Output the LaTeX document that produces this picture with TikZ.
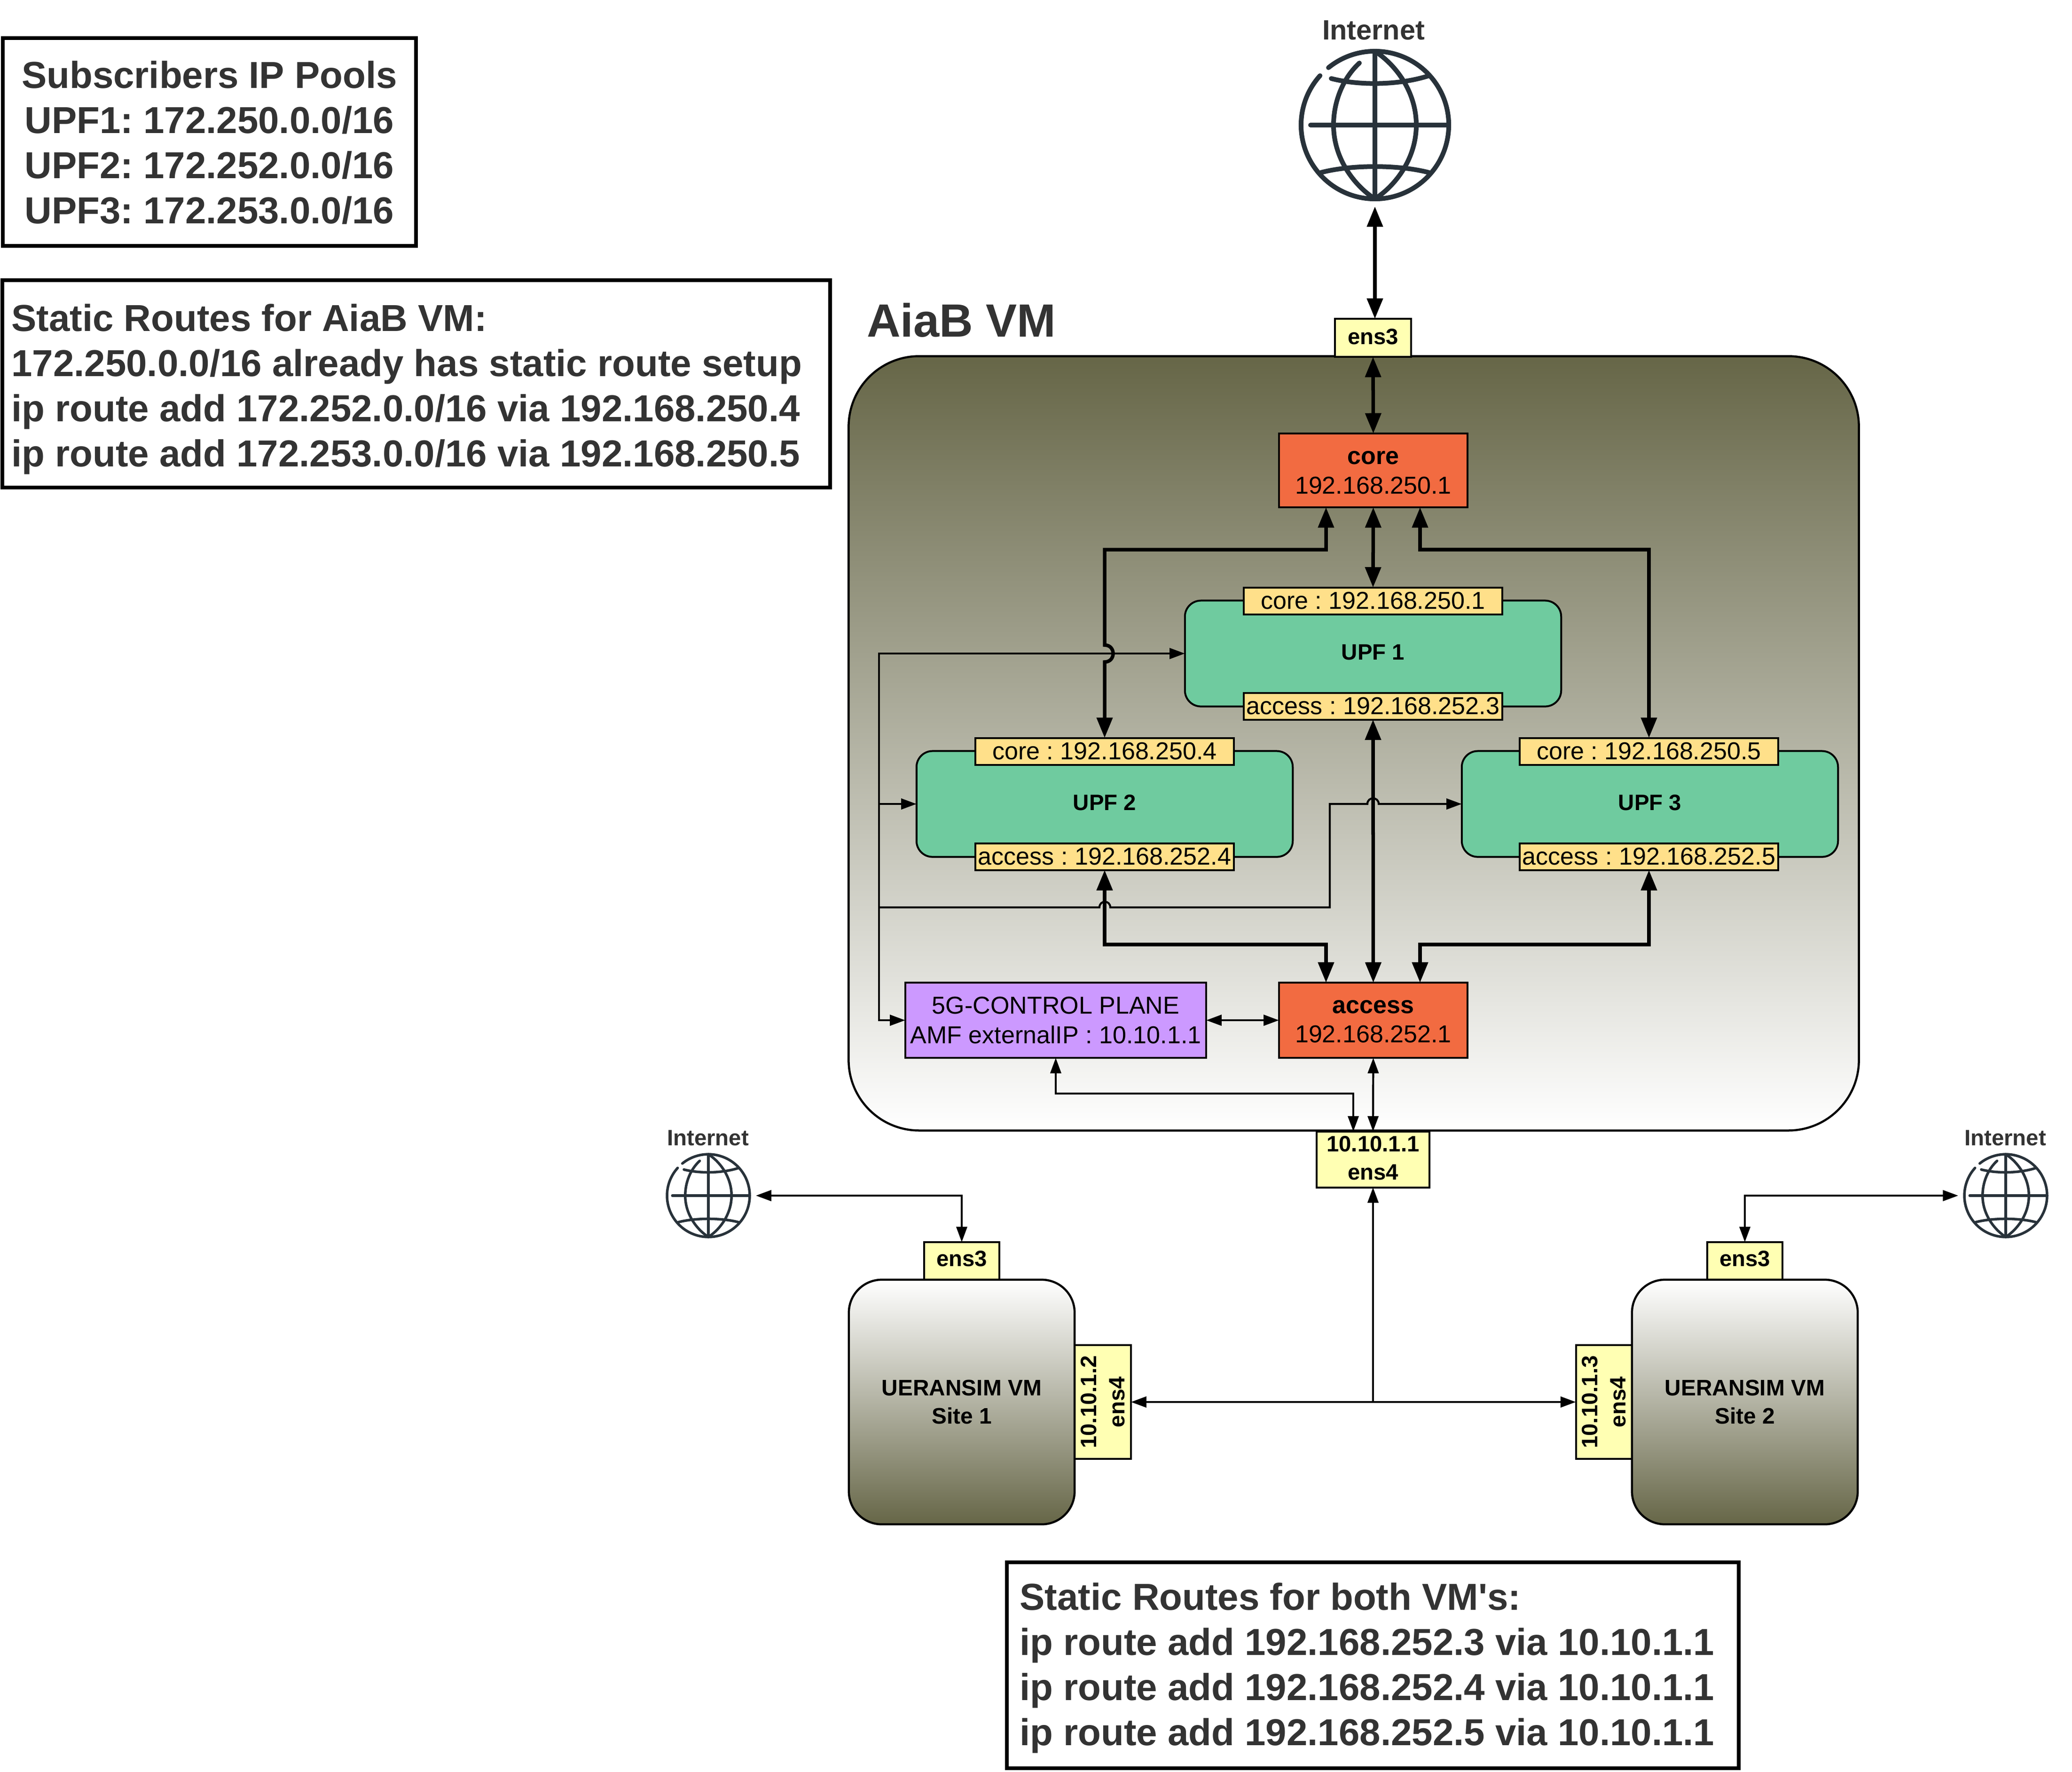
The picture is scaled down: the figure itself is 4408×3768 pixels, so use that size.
\documentclass[tikz,border=0pt]{standalone}
\usepackage{fontspec}
\setmainfont{Liberation Sans}[Ligatures=TeXOff]
\usetikzlibrary{arrows.meta,calc}
\frenchspacing
\definecolor{olive}{HTML}{666647}
\definecolor{darktext}{HTML}{333333}
\definecolor{labelfill}{HTML}{FFE08A}
\definecolor{upfgreen}{HTML}{6FCB9F}
\definecolor{corefill}{HTML}{F26B41}
\definecolor{cpfill}{HTML}{CC99FF}
\definecolor{portfill}{HTML}{FFFFB3}
\definecolor{globecol}{HTML}{28323A}
\newcommand{\fs}[2]{\fontsize{#1}{#2}\selectfont}
\newcommand{\tall}[1]{\rule{0pt}{#1pt}}
\newcommand{\deep}[1]{\rule[-#1pt]{0pt}{0pt}}
\newcommand{\globeicon}[4]{%
  \begin{scope}[shift={(#1,#2)},x=.01cm,y=.01cm,scale=#3,draw=globecol,line width=#4,line cap=round]
    \draw (129:1.57cm) arc[start angle=129,end angle=-222,radius=1.57cm];
    \draw (-33,132) .. controls (-68,100) and (-88,50) .. (-88,0) .. controls (-88,-70) and (-45,-128) .. (0,-157);
    \draw (0,157) .. controls (45,128) and (88,70) .. (88,0) .. controls (88,-70) and (45,-128) .. (0,-157);
    \draw (0,157) -- (0,-157);
    \draw (-137,0) -- (157,0);
    \draw (-93,99) .. controls (-35,84) and (50,84) .. (115,105);
    \draw (-115,-101) .. controls (-50,-84) and (50,-84) .. (115,-101);
  \end{scope}}
\tikzset{
  every node/.style={inner sep=0pt,outer sep=0pt,text=black},
  notebox/.style={draw=black,line width=.08cm,fill=white,text=darktext,font=\bfseries\fs{22.7}{27.3}},
  boxsize/.style n args={2}{minimum width=#1cm,minimum height=#2cm},
  vmbox/.style={draw=black,line width=.045cm,align=center},
  upfbox/.style={draw=black,line width=.04cm,fill=upfgreen,rounded corners=.34cm,font=\bfseries\fs{13.47}{17},boxsize={8.0}{2.25}},
  ip/.style={draw=black,line width=.04cm,fill=labelfill,font=\fs{14.8}{17.8},boxsize={5.5}{.57}},
  gw/.style={draw=black,line width=.045cm,fill=corefill,align=center,font=\fs{14.8}{17.8},boxsize={4.01}{1.6}},
  port/.style={draw=black,line width=.04cm,fill=portfill,align=center,font=\bfseries\fs{13.47}{17}},
  head/.style={text=darktext,font=\bfseries},
  globe/.style={minimum width=3.26cm,minimum height=3.26cm,outer sep=.1cm},
  thickline/.style={line width=.075cm,{Triangle[length=12.3pt,width=9.4pt]}-{Triangle[length=12.3pt,width=9.4pt]}},
  thinline/.style={line width=.042cm,{Triangle[length=9.3pt,width=6.5pt]}-{Triangle[length=9.3pt,width=6.5pt]}},
  thinend/.style={line width=.042cm,-{Triangle[length=9.3pt,width=6.5pt]}}
}
\begin{document}
\begin{tikzpicture}[x=.01cm,y=-.01cm]
\useasboundingbox (0,0) rectangle (4408,3768);
% notes
\node[notebox,boxsize={8.79}{4.42},align=center] (subs) at (445.5,302) {\tall{17.2}Subscribers IP Pools\\UPF1: 172.250.0.0/16\\UPF2: 172.252.0.0/16\\UPF3: 172.253.0.0/16};
\node[notebox,align=flush left,inner xsep=.19cm,text width=17.21cm,minimum height=4.41cm] (routes) at (885.5,816.5) {\tall{22.7}Static Routes for AiaB VM:\\172.250.0.0/16 already has static route setup\\ip route add 172.252.0.0/16 via 192.168.250.4\\ip route add 172.253.0.0/16 via 192.168.250.5};
\node[notebox,align=flush left,inner xsep=.28cm,text width=15.01cm,minimum height=4.38cm] (both) at (2920.5,3542) {\tall{19.9}Static Routes for both VM's:\\ip route add 192.168.252.3 via 10.10.1.1\\ip route add 192.168.252.4 via 10.10.1.1\\ip route add 192.168.252.5 via 10.10.1.1};
% main VM
\node[vmbox,top color=olive,bottom color=white,rounded corners=1.5cm,boxsize={21.48}{16.46}] (vm) at (2880,1581) {};
\node[head,font=\bfseries\fs{28.2}{32},anchor=west] (vmtitle) at (1844,681) {AiaB VM};
% globes
\node[globe] (gtop) at (2925,266) {};
\globeicon{2925}{266}{1}{.1cm}
\node[head,font=\bfseries\fs{16.9}{20}] (ttop) at (2922,64) {Internet};
\node[globe,minimum width=1.82cm,minimum height=1.82cm] (gleft) at (1507,2543) {};
\globeicon{1507}{2543}{.56}{.055cm}
\node[head,font=\bfseries\fs{13.47}{17}] (tleft) at (1506,2420) {Internet};
\node[globe,minimum width=1.82cm,minimum height=1.82cm] (gright) at (4267,2543) {};
\globeicon{4267}{2543}{.56}{.055cm}
\node[head,font=\bfseries\fs{13.47}{17}] (tright) at (4266,2420) {Internet};
% boxes
\node[gw,minimum height=1.57cm] (core) at (2921.5,1000.5) {\tall{10.5}\textbf{core}\\192.168.250.1};
\node[gw] (access) at (2921.5,2170) {\tall{9.4}\textbf{access}\\192.168.252.1};
\node[gw,fill=cpfill,boxsize={6.4}{1.6}] (cp) at (2246,2170) {5G-CONTROL PLANE\\AMF externalIP : 10.10.1.1};
\node[upfbox] (upf1) at (2921,1390) {\deep{1.7}UPF 1};
\node[upfbox] (upf2) at (2350,1710) {\deep{1.7}UPF 2};
\node[upfbox] (upf3) at (3510,1710) {\deep{1.7}UPF 3};
\node[ip] (u1c) at (2921,1278) {core : 192.168.250.1};
\node[ip] (u1a) at (2921,1502) {access : 192.168.252.3};
\node[ip] (u2c) at (2350,1598) {core : 192.168.250.4};
\node[ip] (u2a) at (2350,1822) {access : 192.168.252.4};
\node[ip] (u3c) at (3508,1598) {core : 192.168.250.5};
\node[ip] (u3a) at (3508,1822) {access : 192.168.252.5};
\node[port,boxsize={1.62}{.81}] (e3top) at (2921,718.5) {\deep{1.7}ens3};
\node[port,boxsize={2.4}{1.19}] (e4main) at (2921,2466) {10.10.1.1\\\deep{1.7}ens4};
% UE VMs
\node[port,boxsize={1.6}{.8}] (s1e3) at (2046,2682) {\deep{3}ens3};
\node[port,boxsize={1.6}{.8}] (s2e3) at (3712,2682) {\deep{3}ens3};
\node[port,boxsize={2.42}{1.2},rotate=90] (s1e4) at (2346,2982) {10.10.1.2\\ens4};
\node[port,boxsize={2.42}{1.2},rotate=90] (s2e4) at (3412.5,2982) {10.10.1.3\\ens4};
\node[vmbox,top color=white,bottom color=olive,rounded corners=.7cm,boxsize={4.8}{5.2},font=\bfseries\fs{13.6}{17}] (s1) at (2046,2982) {UERANSIM VM\\Site 1};
\node[vmbox,top color=white,bottom color=olive,rounded corners=.7cm,boxsize={4.8}{5.2},font=\bfseries\fs{13.6}{17}] (s2) at (3712,2982) {UERANSIM VM\\Site 2};
% routing points
\coordinate (busx) at (1870,2170);
\coordinate (coreL) at (2350,1169);
\coordinate (coreR) at (3508,1169);
\coordinate (accL) at (2350,2009);
\coordinate (accR) at (3508,2009);
\coordinate (tapL) at (2821,1000);
\coordinate (tapR) at (3021,1000);
\coordinate (loopY) at (1870,1930);
\coordinate (loopX) at (2829,1930);
\coordinate (cpbus) at (2246,2326);
\coordinate (e4tap) at (2879,2326);
\coordinate (junction) at (2921,2981.5);
% thick connectors
\draw[thickline] (gtop.south) -- (e3top.north -| gtop.south);
\draw[thickline] (e3top.south) -- (core.north);
\draw[thickline] (core.south) -- (u1c.north);
\draw[thickline] (u1a.south) -- (access.north);
\draw[thickline] (core.south -| tapL) -- (tapL |- coreL) -- (coreL) -- (2350,1372) .. controls (2374,1372) and (2374,1408) .. (2350,1408) -- (u2c.north);
\draw[thickline] (core.south -| tapR) -- (tapR |- coreR) -- (coreR) -- (u3c.north);
\draw[thickline] (u2a.south) -- (accL) -- (accL -| tapL) -- (access.north -| tapL);
\draw[thickline] (u3a.south) -- (accR) -- (accR -| tapR) -- (access.north -| tapR);
% thin connectors
\draw[thinline] (cp.west) -- (busx) -- (busx |- upf1.west) -- (upf1.west);
\draw[thinend] (busx |- upf2.west) -- (upf2.west);
\draw[thinend] (loopY) -- (2339,1930) .. controls (2339,1914) and (2362,1914) .. (2362,1930) -- (loopX) -- (loopX |- upf3.west) -- (2909,1710) .. controls (2909,1694) and (2933,1694) .. (2933,1710) -- (upf3.west);
\draw[thinline] (cp.east) -- (access.west);
\draw[thinline] (cp.south) -- (cpbus) -- (e4tap) -- (e4main.north -| e4tap);
\draw[thinline] (access.south) -- (e4main.north);
\draw[thinend] (junction) -- (e4main.south);
\draw[thinline] (s1e4.south) -- (s2e4.north);
\draw[thinline] (gleft.east) -- (gleft.east -| s1e3.north) -- (s1e3.north);
\draw[thinline] (gright.west) -- (gright.west -| s2e3.north) -- (s2e3.north);
\end{tikzpicture}
\end{document}
